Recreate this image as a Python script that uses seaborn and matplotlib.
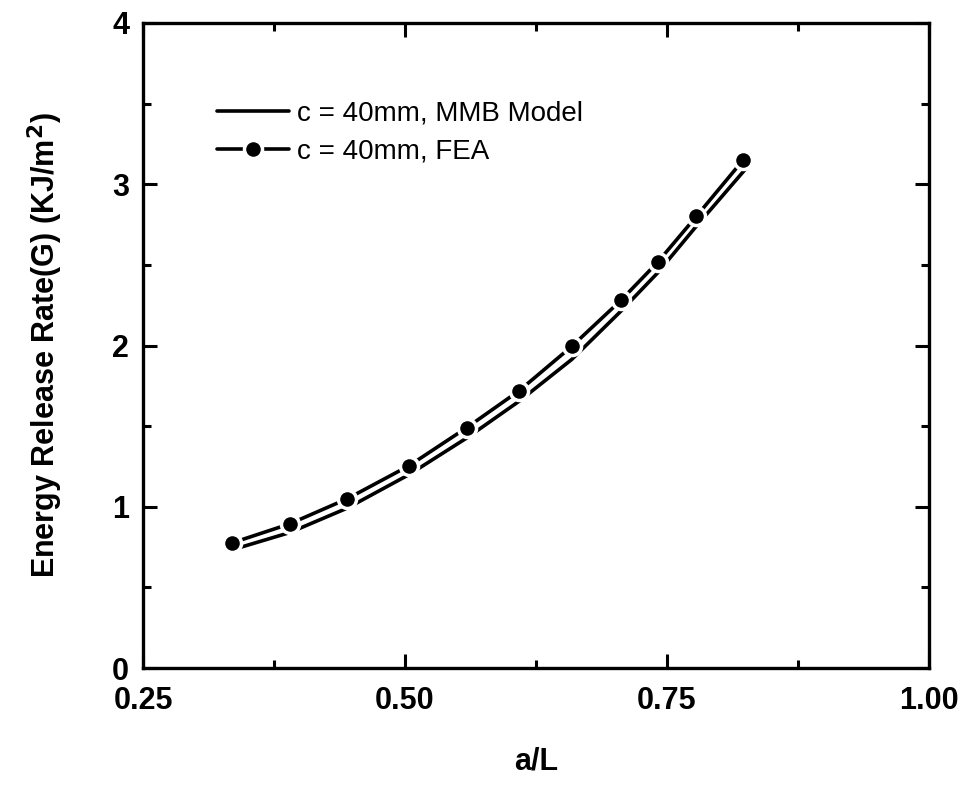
import seaborn as sns
import matplotlib.pyplot as plt
from matplotlib.ticker import MultipleLocator, FormatStrFormatter

# valeurs
a_L_fea = [0.335, 0.390, 0.445, 0.504, 0.559, 0.609, 0.659, 0.706, 0.741, 0.778, 0.8225]
G_fea = [0.776, 0.894, 1.050, 1.255, 1.491, 1.720, 1.994, 2.280, 2.516, 2.801, 3.149]

a_L_mmb = [0.335, 0.390, 0.445, 0.504, 0.559, 0.609, 0.659, 0.706, 0.741, 0.778, 0.827]
G_mmb = [0.733, 0.840, 0.992, 1.200, 1.427, 1.655, 1.913, 2.213, 2.450, 2.740, 3.110]

label_mmb = "c = 40mm, MMB Model"
label_fea = "c = 40mm, FEA"

sns.set_style("ticks")
plt.rcParams["font.family"] = ["Liberation Sans Narrow", "Liberation Sans", "DejaVu Sans"]
for k in ["text.color", "axes.labelcolor", "xtick.color", "ytick.color", "axes.edgecolor"]:
    plt.rcParams[k] = "black"

fig = plt.figure(figsize=(9.63, 7.9), dpi=100)
ax = fig.add_axes([0.1485, 0.1544, 0.8162, 0.8165])

sns.lineplot(x=a_L_mmb, y=G_mmb, ax=ax, color="black", lw=2.6, label=label_mmb)
sns.lineplot(x=a_L_fea, y=G_fea, ax=ax, color="black", lw=2.6, marker="o",
             markersize=13, markeredgecolor="white", markeredgewidth=2.5,
             label=label_fea)

ax.set_xlim(0.25, 1.00)
ax.set_ylim(0, 4)
ax.xaxis.set_major_locator(MultipleLocator(0.25))
ax.xaxis.set_minor_locator(MultipleLocator(0.125))
ax.yaxis.set_major_locator(MultipleLocator(1))
ax.yaxis.set_minor_locator(MultipleLocator(0.5))
ax.xaxis.set_major_formatter(FormatStrFormatter("%.2f"))
ax.yaxis.set_major_formatter(FormatStrFormatter("%.0f"))

ax.tick_params(which="both", direction="in", top=True, right=True, width=2.2,
               labelsize=22)
ax.tick_params(axis="x", pad=13)
ax.tick_params(axis="y", pad=10)
ax.tick_params(which="major", length=10)
ax.tick_params(which="minor", length=5.5)
for lab in ax.get_xticklabels() + ax.get_yticklabels():
    lab.set_fontweight("bold")
for s in ax.spines.values():
    s.set_linewidth(2.4)
    s.set_visible(True)

ax.set_xlabel("a/L", fontsize=22, fontweight="bold", labelpad=22)
ax.set_ylabel("Energy Release Rate(G) (KJ/m$^\\mathbf{2}$)", fontsize=22,
              fontweight="bold", labelpad=34)

ax.legend(loc="upper left", bbox_to_anchor=(0.094, 0.88), frameon=False,
          fontsize=20, handlelength=2.6, handletextpad=0.3, labelspacing=0.45,
          borderpad=0, borderaxespad=0)

plt.savefig("out.png", dpi=100)
